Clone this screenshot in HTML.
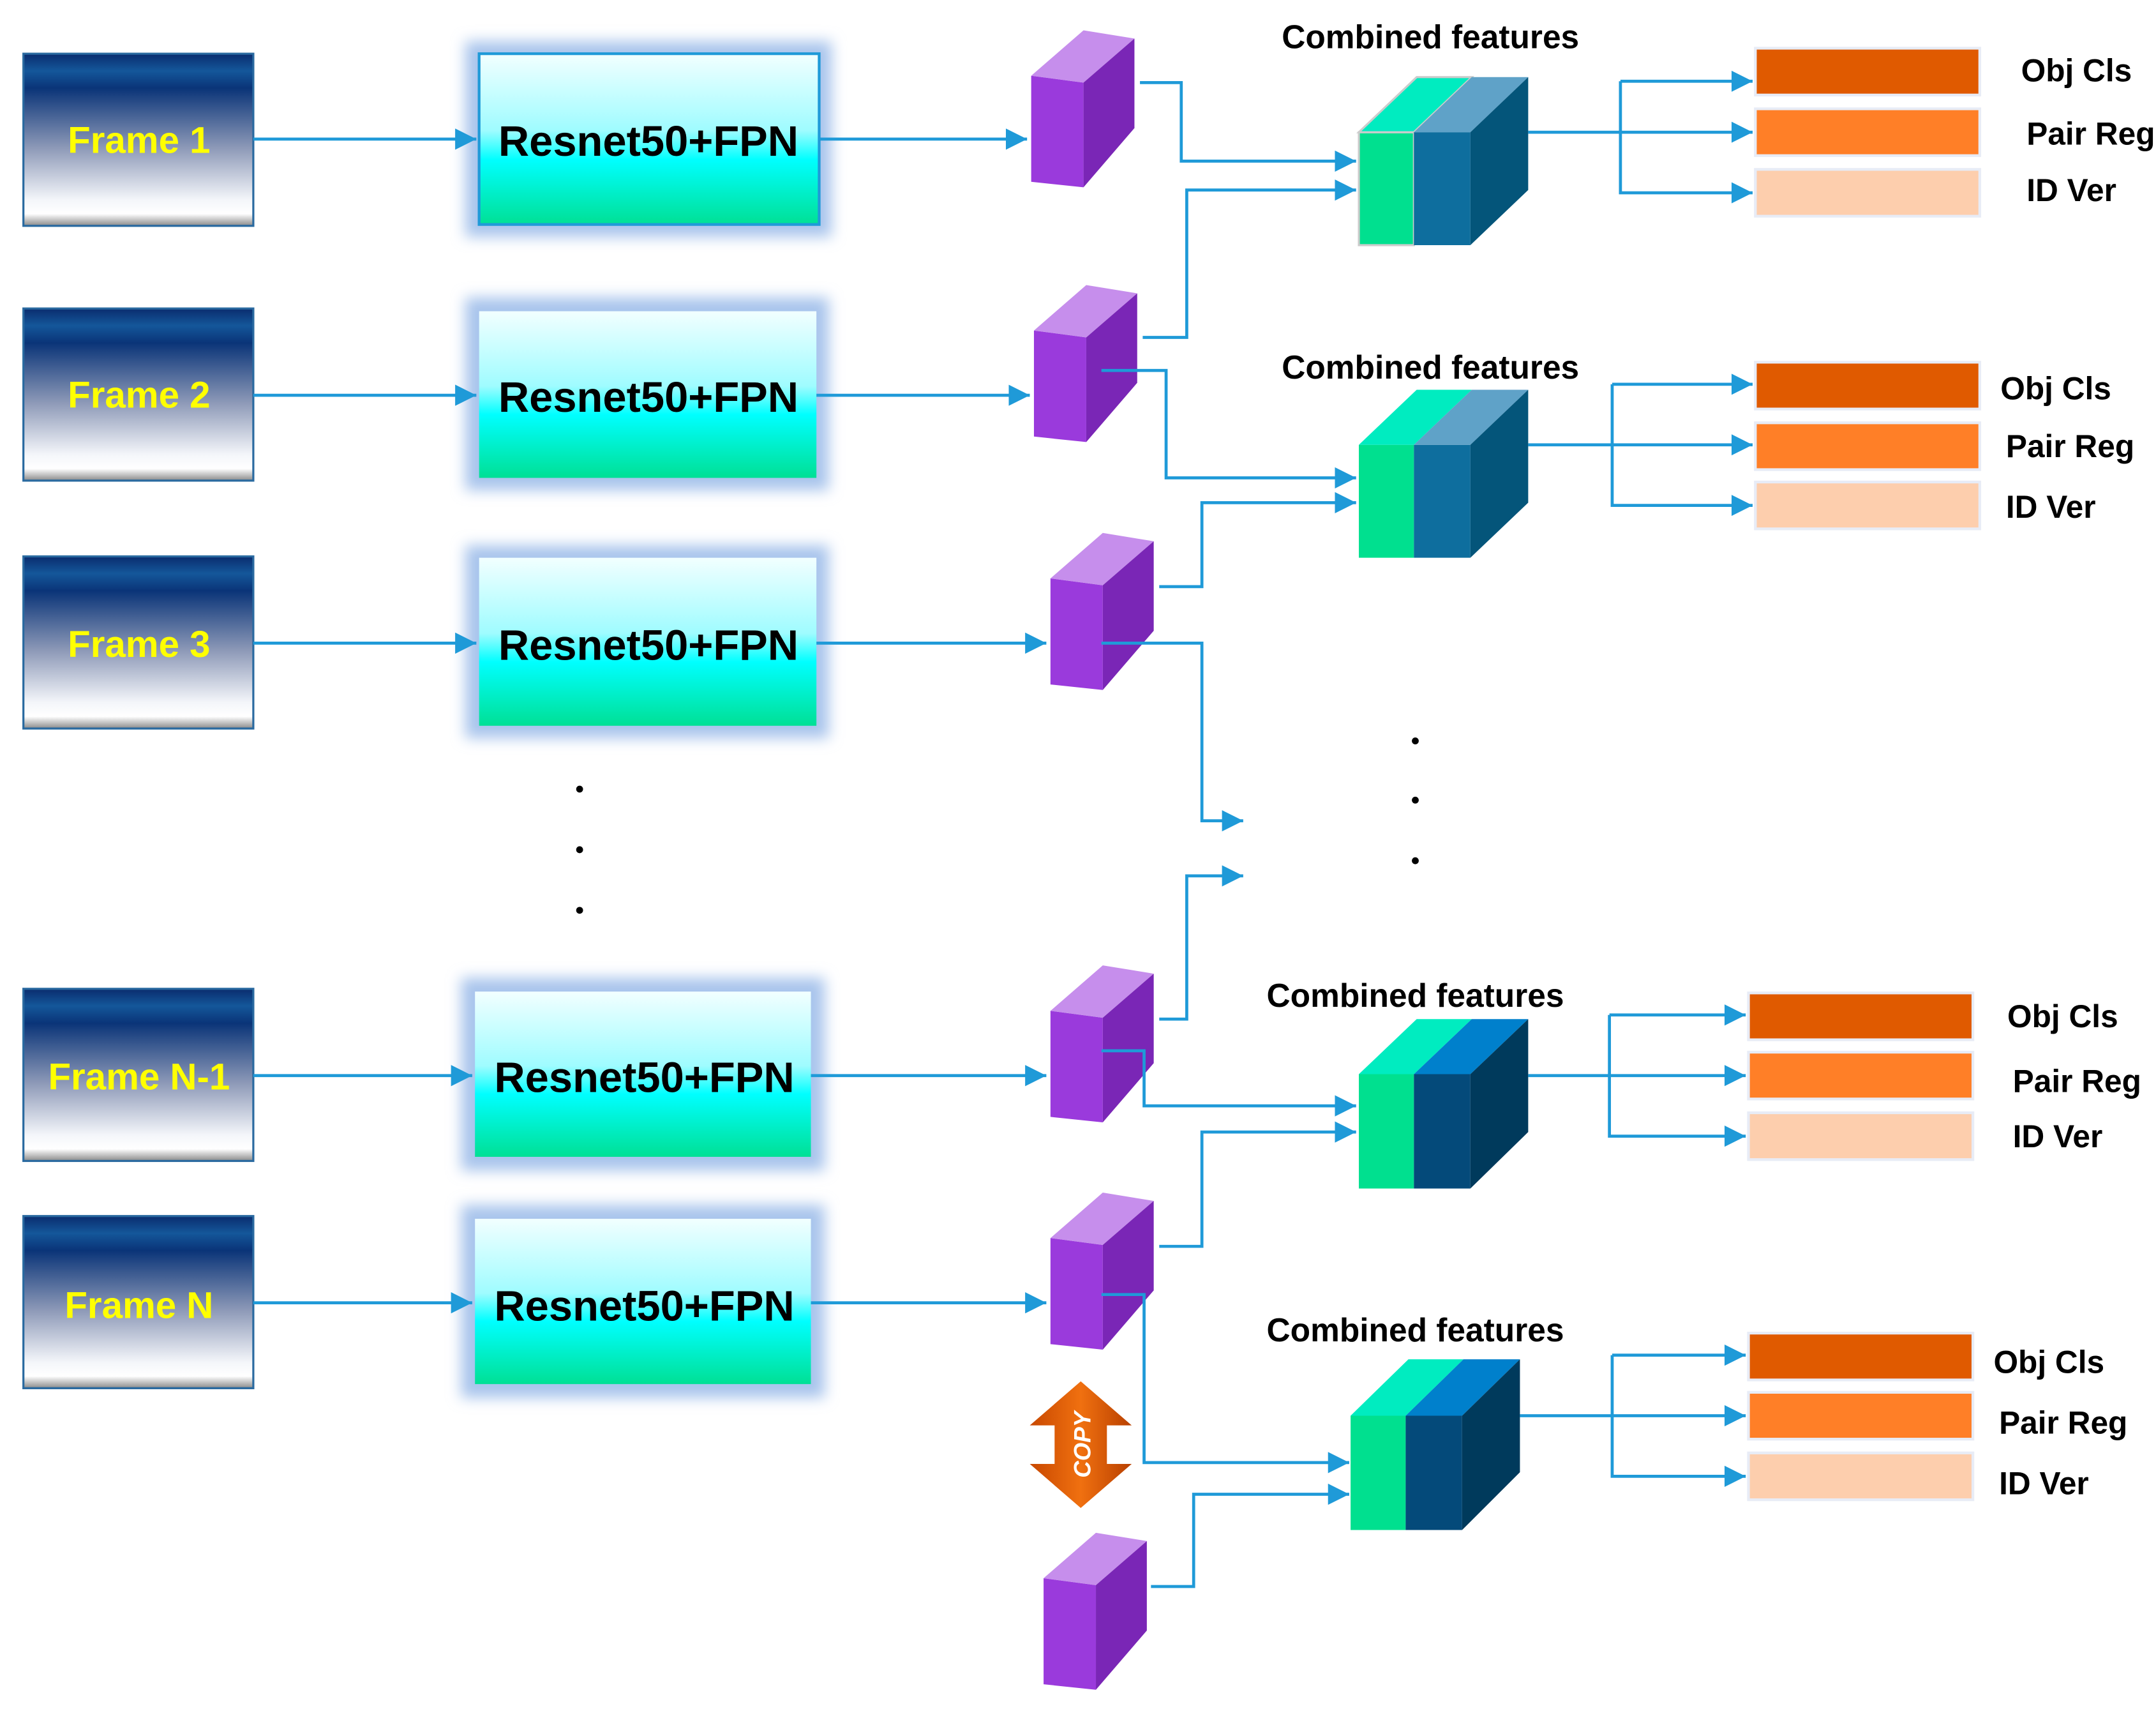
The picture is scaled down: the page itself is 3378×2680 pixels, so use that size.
<!DOCTYPE html>
<html><head><meta charset="utf-8"><style>
html,body{margin:0;padding:0;background:#fff;width:3378px;height:2680px;overflow:hidden}
svg{display:block}
text{font-family:"Liberation Sans Narrow","Liberation Sans",sans-serif;font-weight:bold}
</style></head><body>
<svg width="3378" height="2680" viewBox="0 0 1566 1242.4" preserveAspectRatio="none" xmlns="http://www.w3.org/2000/svg">
<defs>
<linearGradient id="fr" x1="0" y1="0" x2="0" y2="1">
<stop offset="0" stop-color="#0a2c6e"/><stop offset="0.1" stop-color="#14579a"/><stop offset="0.2" stop-color="#0a3478"/>
<stop offset="0.55" stop-color="#8e9ab8"/><stop offset="0.85" stop-color="#f4f6fa"/><stop offset="0.93" stop-color="#ffffff"/><stop offset="1" stop-color="#8a8a8a"/>
</linearGradient>
<linearGradient id="rn" x1="0" y1="0" x2="0" y2="1">
<stop offset="0" stop-color="#f2ffff"/><stop offset="0.45" stop-color="#9ffcff"/><stop offset="0.62" stop-color="#00ffff"/><stop offset="1" stop-color="#00e095"/>
</linearGradient>
<filter id="gl" x="-20%" y="-20%" width="140%" height="140%"><feGaussianBlur stdDeviation="5"/></filter>
<marker id="ar" viewBox="0 0 10 10" refX="10" refY="5" markerWidth="7" markerHeight="7" orient="auto" markerUnits="strokeWidth">
<path d="M0,0 L10,5 L0,10 Z" fill="#1f9ad8"/></marker>
<linearGradient id="cp" x1="0" y1="0" x2="1" y2="0">
<stop offset="0" stop-color="#c84800"/><stop offset="0.5" stop-color="#f07010"/><stop offset="1" stop-color="#b84000"/></linearGradient>
</defs>

<g stroke="#2a6aa0" stroke-width="1.5">
<rect x="17" y="39" width="167" height="125" fill="url(#fr)"/>
<rect x="17" y="224" width="167" height="125" fill="url(#fr)"/>
<rect x="17" y="404" width="167" height="125" fill="url(#fr)"/>
<rect x="17" y="718" width="167" height="125" fill="url(#fr)"/>
<rect x="17" y="883" width="167" height="125" fill="url(#fr)"/>
</g>
<g fill="#ffff00" font-size="27" text-anchor="middle">
<text x="101" y="111">Frame 1</text>
<text x="101" y="296">Frame 2</text>
<text x="101" y="477">Frame 3</text>
<text x="101" y="791">Frame N-1</text>
<text x="101" y="957">Frame N</text>
</g>

<g fill="#a8c4ec" filter="url(#gl)">
<rect x="338" y="30" width="266" height="142"/>
<rect x="338" y="216" width="264" height="140"/>
<rect x="338" y="396" width="264" height="140"/>
<rect x="335" y="710" width="264" height="140"/>
<rect x="335" y="875" width="264" height="140"/>
</g>
<rect x="348" y="39" width="247" height="124" fill="url(#rn)" stroke="#1f9ad8" stroke-width="2"/>
<rect x="348" y="226" width="245" height="121" fill="url(#rn)"/>
<rect x="348" y="405" width="245" height="122" fill="url(#rn)"/>
<rect x="345" y="720" width="244" height="120" fill="url(#rn)"/>
<rect x="345" y="885" width="244" height="120" fill="url(#rn)"/>
<g fill="#000" font-size="31" text-anchor="middle">
<text x="471" y="113" textLength="218" lengthAdjust="spacingAndGlyphs">Resnet50+FPN</text>
<text x="471" y="299" textLength="218" lengthAdjust="spacingAndGlyphs">Resnet50+FPN</text>
<text x="471" y="479" textLength="218" lengthAdjust="spacingAndGlyphs">Resnet50+FPN</text>
<text x="468" y="793" textLength="218" lengthAdjust="spacingAndGlyphs">Resnet50+FPN</text>
<text x="468" y="959" textLength="218" lengthAdjust="spacingAndGlyphs">Resnet50+FPN</text>
</g>

<g fill="#000"><circle cx="421" cy="573" r="2.5"/><circle cx="421" cy="617" r="2.5"/><circle cx="421" cy="661" r="2.5"/>
<circle cx="1028" cy="538" r="2.5"/><circle cx="1028" cy="581" r="2.5"/><circle cx="1028" cy="625" r="2.5"/></g>

<g>
<g transform="translate(749,22)"><path d="M0,33 L38,38 L38,114 L0,110Z" fill="#9a3adc"/><path d="M0,33 L38,38 L75,6 L38,0Z" fill="#c68eec"/><path d="M38,38 L75,6 L75,71 L38,114Z" fill="#7a26b6"/></g>
<g transform="translate(751,207)"><path d="M0,33 L38,38 L38,114 L0,110Z" fill="#9a3adc"/><path d="M0,33 L38,38 L75,6 L38,0Z" fill="#c68eec"/><path d="M38,38 L75,6 L75,71 L38,114Z" fill="#7a26b6"/></g>
<g transform="translate(763,387)"><path d="M0,33 L38,38 L38,114 L0,110Z" fill="#9a3adc"/><path d="M0,33 L38,38 L75,6 L38,0Z" fill="#c68eec"/><path d="M38,38 L75,6 L75,71 L38,114Z" fill="#7a26b6"/></g>
<g transform="translate(763,701)"><path d="M0,33 L38,38 L38,114 L0,110Z" fill="#9a3adc"/><path d="M0,33 L38,38 L75,6 L38,0Z" fill="#c68eec"/><path d="M38,38 L75,6 L75,71 L38,114Z" fill="#7a26b6"/></g>
<g transform="translate(763,866)"><path d="M0,33 L38,38 L38,114 L0,110Z" fill="#9a3adc"/><path d="M0,33 L38,38 L75,6 L38,0Z" fill="#c68eec"/><path d="M38,38 L75,6 L75,71 L38,114Z" fill="#7a26b6"/></g>
<g transform="translate(758,1113)"><path d="M0,33 L38,38 L38,114 L0,110Z" fill="#9a3adc"/><path d="M0,33 L38,38 L75,6 L38,0Z" fill="#c68eec"/><path d="M38,38 L75,6 L75,71 L38,114Z" fill="#7a26b6"/></g>
</g>

<path d="M785,1003 L822,1035 L804,1035 L804,1063 L822,1063 L785,1095 L748,1063 L766,1063 L766,1035 L748,1035Z" fill="url(#cp)"/>
<text transform="translate(792,1049) rotate(-90)" fill="#fff" font-size="17" font-style="italic" font-weight="normal" text-anchor="middle" style="font-family:'Liberation Sans',sans-serif">COPY</text>

<g transform="translate(987,56)"><path d="M0,40 L40,40 L40,122 L0,122Z" fill="#00e08f" stroke="#ccc" stroke-width="1.5"/><path d="M0,40 L40,40 L82,0 L42,0Z" fill="#00ecc0" stroke="#ccc" stroke-width="1.5"/><path d="M40,40 L81,40 L81,122 L40,122Z" fill="#0e6e9e"/><path d="M40,40 L81,40 L123,0 L82,0Z" fill="#5fa2c8"/><path d="M81,40 L123,0 L123,82 L81,122Z" fill="#04557a"/></g>
<g transform="translate(987,283)"><path d="M0,40 L40,40 L40,122 L0,122Z" fill="#00e08f"/><path d="M0,40 L40,40 L82,0 L42,0Z" fill="#00ecc0"/><path d="M40,40 L81,40 L81,122 L40,122Z" fill="#0e6e9e"/><path d="M40,40 L81,40 L123,0 L82,0Z" fill="#5fa2c8"/><path d="M81,40 L123,0 L123,82 L81,122Z" fill="#04557a"/></g>
<g transform="translate(987,740)"><path d="M0,40 L40,40 L40,123 L0,123Z" fill="#00e08f"/><path d="M0,40 L40,40 L82,0 L42,0Z" fill="#00ecc0"/><path d="M40,40 L81,40 L81,123 L40,123Z" fill="#044a7a"/><path d="M40,40 L81,40 L123,0 L82,0Z" fill="#0080cc"/><path d="M81,40 L123,0 L123,82 L81,123Z" fill="#003a5c"/></g>
<g transform="translate(981,987)"><path d="M0,41 L40,41 L40,124 L0,124Z" fill="#00e08f"/><path d="M0,41 L40,41 L82,0 L42,0Z" fill="#00ecc0"/><path d="M40,41 L81,41 L81,124 L40,124Z" fill="#044a7a"/><path d="M40,41 L81,41 L123,0 L82,0Z" fill="#0080cc"/><path d="M81,41 L123,0 L123,82 L81,124Z" fill="#003a5c"/></g>

<g fill="#000" font-size="24" text-anchor="middle">
<text x="1039" y="35" textLength="216" lengthAdjust="spacingAndGlyphs">Combined features</text>
<text x="1039" y="275" textLength="216" lengthAdjust="spacingAndGlyphs">Combined features</text>
<text x="1028" y="731" textLength="216" lengthAdjust="spacingAndGlyphs">Combined features</text>
<text x="1028" y="974" textLength="216" lengthAdjust="spacingAndGlyphs">Combined features</text>
</g>

<g stroke="#e8ecf6" stroke-width="2">
<rect x="1275" y="35" width="163" height="34" fill="#e05a00"/><rect x="1275" y="79" width="163" height="34" fill="#ff7f27"/><rect x="1275" y="123" width="163" height="34" fill="#fdcead"/>
<rect x="1275" y="263" width="163" height="34" fill="#e05a00"/><rect x="1275" y="307" width="163" height="34" fill="#ff7f27"/><rect x="1275" y="350" width="163" height="34" fill="#fdcead"/>
<rect x="1270" y="721" width="163" height="34" fill="#e05a00"/><rect x="1270" y="764" width="163" height="34" fill="#ff7f27"/><rect x="1270" y="808" width="163" height="34" fill="#fdcead"/>
<rect x="1270" y="968" width="163" height="34" fill="#e05a00"/><rect x="1270" y="1011" width="163" height="34" fill="#ff7f27"/><rect x="1270" y="1055" width="163" height="34" fill="#fdcead"/>
</g>
<g fill="#000" font-size="23">
<text x="1468" y="59">Obj Cls</text><text x="1472" y="105">Pair Reg</text><text x="1472" y="146">ID Ver</text>
<text x="1453" y="290">Obj Cls</text><text x="1457" y="332">Pair Reg</text><text x="1457" y="376">ID Ver</text>
<text x="1458" y="746">Obj Cls</text><text x="1462" y="793">Pair Reg</text><text x="1462" y="833">ID Ver</text>
<text x="1448" y="997">Obj Cls</text><text x="1452" y="1041">Pair Reg</text><text x="1452" y="1085">ID Ver</text>
</g>

<g stroke="#1f9ad8" stroke-width="2.2" fill="none">
<path d="M184,101 H346" marker-end="url(#ar)"/>
<path d="M184,287 H346" marker-end="url(#ar)"/>
<path d="M184,467 H346" marker-end="url(#ar)"/>
<path d="M184,781 H343" marker-end="url(#ar)"/>
<path d="M184,946 H343" marker-end="url(#ar)"/>
<path d="M595,101 H746" marker-end="url(#ar)"/>
<path d="M593,287 H748" marker-end="url(#ar)"/>
<path d="M593,467 H760" marker-end="url(#ar)"/>
<path d="M589,781 H760" marker-end="url(#ar)"/>
<path d="M589,946 H760" marker-end="url(#ar)"/>
<path d="M828,60 H858 V117 H985" marker-end="url(#ar)"/>
<path d="M830,245 H862 V138 H985" marker-end="url(#ar)"/>
<path d="M800,269 H847 V347 H985" marker-end="url(#ar)"/>
<path d="M842,426 H873 V365 H985" marker-end="url(#ar)"/>
<path d="M800,467 H873 V596 H903" marker-end="url(#ar)"/>
<path d="M842,740 H862 V636 H903" marker-end="url(#ar)"/>
<path d="M800,763 H831 V803 H985" marker-end="url(#ar)"/>
<path d="M842,905 H873 V822 H985" marker-end="url(#ar)"/>
<path d="M800,940 H831 V1062 H980" marker-end="url(#ar)"/>
<path d="M836,1152 H867 V1085 H980" marker-end="url(#ar)"/>
<path d="M1110,96 H1273" marker-end="url(#ar)"/>
<path d="M1177,59 V140 H1273" marker-end="url(#ar)"/>
<path d="M1177,59 H1273" marker-end="url(#ar)"/>
<path d="M1110,323 H1273" marker-end="url(#ar)"/>
<path d="M1171,279 V367 H1273" marker-end="url(#ar)"/>
<path d="M1171,279 H1273" marker-end="url(#ar)"/>
<path d="M1110,781 H1268" marker-end="url(#ar)"/>
<path d="M1169,737 V825 H1268" marker-end="url(#ar)"/>
<path d="M1169,737 H1268" marker-end="url(#ar)"/>
<path d="M1104,1028 H1268" marker-end="url(#ar)"/>
<path d="M1171,984 V1072 H1268" marker-end="url(#ar)"/>
<path d="M1171,984 H1268" marker-end="url(#ar)"/>
</g>
</svg>
</body></html>
